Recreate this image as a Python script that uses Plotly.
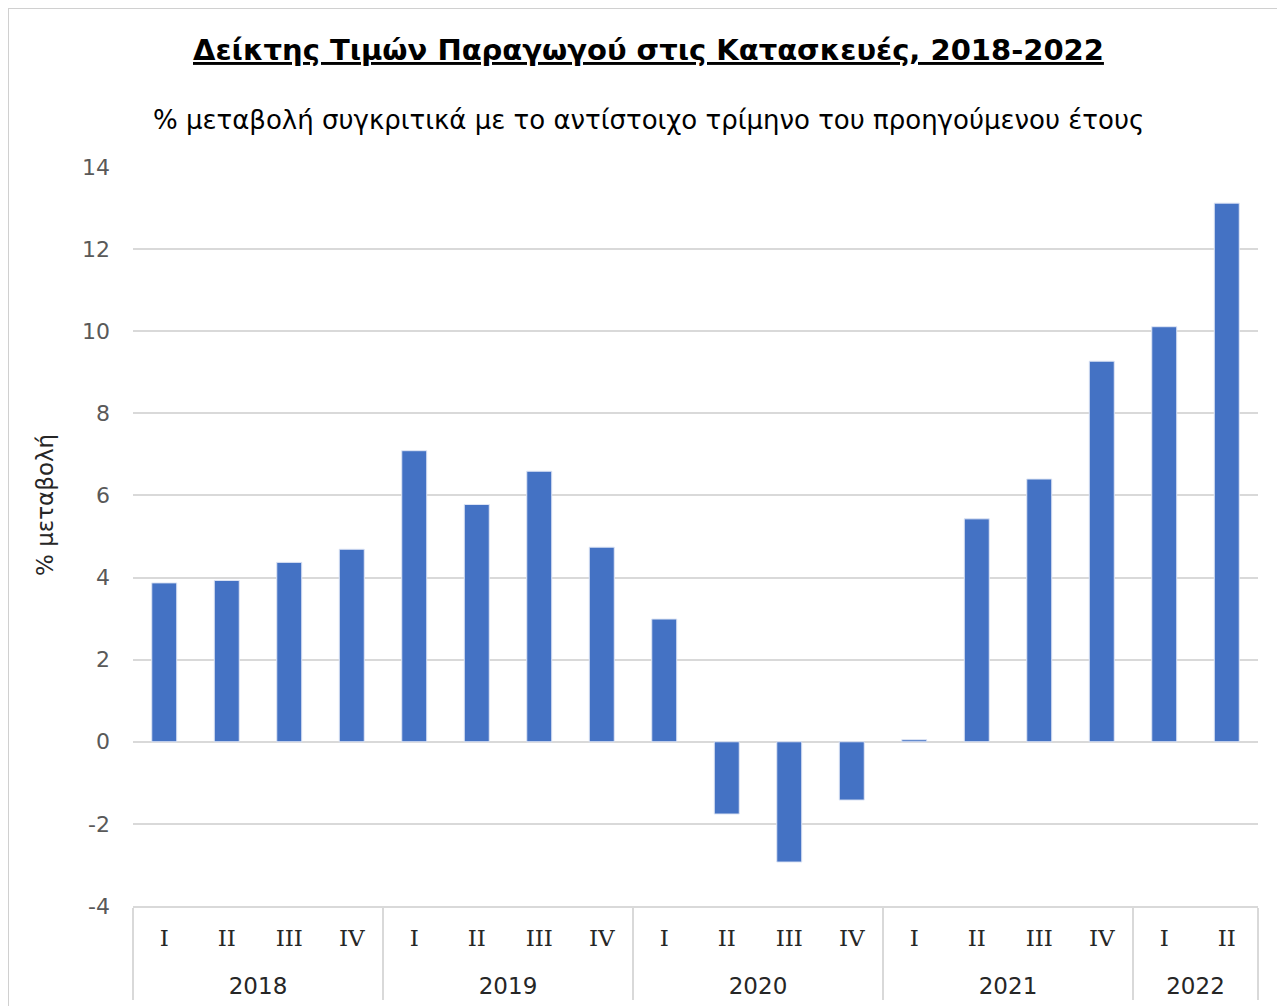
import plotly.graph_objects as go

years = ["2018"] * 4 + ["2019"] * 4 + ["2020"] * 4 + ["2021"] * 4 + ["2022"] * 2
quarters = ["I", "II", "III", "IV"] * 4 + ["I", "II"]
values = [3.87, 3.93, 4.37, 4.69,
          7.09, 5.78, 6.59, 4.74,
          2.99, -1.76, -2.93, -1.42,
          0.05, 5.43, 6.40, 9.27,
          10.11, 13.12]
y_ticks = [-4, -2, 0, 2, 4, 6, 8, 10, 12, 14]

title_text = "Δείκτης Τιμών Παραγωγού στις Κατασκευές, 2018-2022"
subtitle_text = "% μεταβολή συγκριτικά με το αντίστοιχο τρίμηνο του προηγούμενου έτους"
y_title = "% μεταβολή"

FONT = "DejaVu Sans"
GRID = "#d9d9d9"

year_labels = ["<br>" + y for y in years]
quarter_labels = ["<span style='font-family:DejaVu Serif'>" + q + "</span>" for q in quarters]

fig = go.Figure(go.Bar(
    x=[year_labels, quarter_labels],
    y=values,
    marker=dict(color="#4472C4", line=dict(color="#dfe6f5", width=1)),
))

W, H = 1285, 1006
ml, mr, mt, mb = 125, 35, 159, 108
pw, ph = W - ml - mr, H - mt - mb
OFF = 8  # page offset of the figure in the browser


def px(xs):
    return (xs - OFF - ml) / pw


def py(ys):
    return (H - mb - (ys - OFF)) / ph


fig.update_layout(
    width=W, height=H,
    margin=dict(l=ml, r=mr, t=mt, b=mb),
    paper_bgcolor="white", plot_bgcolor="white",
    bargap=0.6,
    showlegend=False,
    font=dict(family=FONT, color="#595959", size=18),
    xaxis=dict(
        type="multicategory",
        showline=True, linecolor=GRID, linewidth=2,
        showdividers=True, dividercolor=GRID, dividerwidth=2,
        tickfont=dict(family=FONT, size=23, color="#262626"),
        ticks="",
        ticklabelstandoff=10,
        showgrid=False,
    ),
    yaxis=dict(
        range=[-4, 14],
        tickmode="array", tickvals=y_ticks, ticktext=[str(v) for v in y_ticks],
        showgrid=True, gridcolor=GRID, gridwidth=2,
        zeroline=True, zerolinecolor=GRID, zerolinewidth=2,
        showline=False, ticks="",
        ticklabelstandoff=22,
        tickfont=dict(family=FONT, size=22, color="#595959"),
    ),
    annotations=[
        dict(text="<b><u>" + title_text + "</u></b>", xref="paper", yref="paper",
             x=px(648), y=py(50), xanchor="center", yanchor="middle",
             showarrow=False, font=dict(family=FONT, size=29, color="black")),
        dict(text=subtitle_text, xref="paper", yref="paper",
             x=px(648), y=py(120), xanchor="center", yanchor="middle",
             showarrow=False, font=dict(family=FONT, size=26, color="black")),
        dict(text=y_title, xref="paper", yref="paper", textangle=-90,
             x=px(45), y=py(505), xanchor="center", yanchor="middle",
             showarrow=False, font=dict(family=FONT, size=23, color="#262626")),
    ],
    shapes=[
        dict(type="rect", xref="paper", yref="paper",
             x0=px(OFF), x1=px(W + 40),
             y0=py(H + 40), y1=py(OFF),
             line=dict(color="#d0d0d0", width=2), fillcolor="rgba(0,0,0,0)", layer="below"),
    ],
)

fig.write_html("out.html")
